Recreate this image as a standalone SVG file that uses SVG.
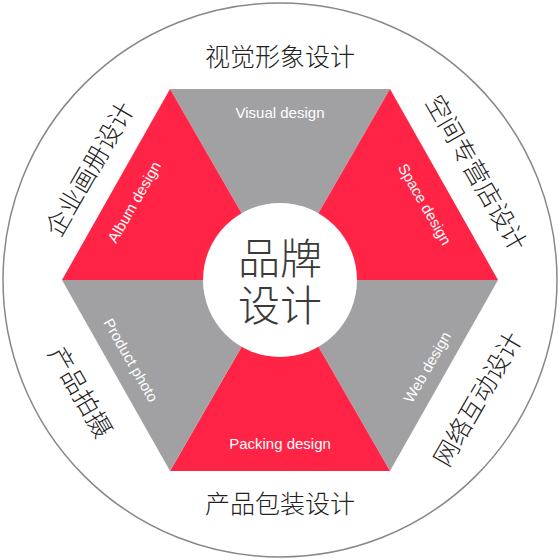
<svg xmlns="http://www.w3.org/2000/svg" width="560" height="560" viewBox="0 0 560 560">
<style>
.red{fill:#FF2445}
.gray{fill:#A1A1A3}
.cn{font-family:"Noto Sans CJK SC","Noto Sans",sans-serif;font-weight:300;fill:#222;font-size:25px;text-anchor:middle;dominant-baseline:central}
.en{font-family:"Liberation Sans",Arial,sans-serif;fill:#fff;font-size:15px;text-anchor:middle;dominant-baseline:central}
.big{font-family:"Noto Sans CJK SC","Noto Sans",sans-serif;font-weight:300;fill:#3a3a3a;font-size:42px;text-anchor:middle;dominant-baseline:central}
</style>
<rect width="560" height="560" fill="#fff"/>
<circle cx="280" cy="280" r="277" fill="#fff" stroke="#888" stroke-width="1.5"/>
<g id="visual"><polygon class="gray" points="280,280 170,89 390,89"/><text class="en" x="280" y="112">Visual design</text></g>
<g id="space"><polygon class="red" points="280,280 390,89 498,280"/><text class="en" transform="translate(425,204) rotate(60)">Space design</text></g>
<g id="web"><polygon class="gray" points="280,280 498,280 390,471"/><text class="en" transform="translate(427,367) rotate(-60)">Web design</text></g>
<g id="packing"><polygon class="red" points="280,280 390,471 170,471"/><text class="en" x="280" y="443">Packing design</text></g>
<g id="product"><polygon class="gray" points="280,280 170,471 62,280"/><text class="en" transform="translate(131,360) rotate(60)">Product photo</text></g>
<g id="album"><polygon class="red" points="280,280 62,280 170,89"/><text class="en" transform="translate(134,202) rotate(-60)">Album design</text></g>
<g id="center"><circle cx="280" cy="280" r="77" fill="#fff"/><text class="big" x="280" y="255">品牌</text><text class="big" x="280" y="302">设计</text></g>
<g id="labels">
<text class="cn" x="280" y="55">视觉形象设计</text>
<text class="cn" x="280" y="502">产品包装设计</text>
<text class="cn" transform="translate(88,168) rotate(-60)">企业画册设计</text>
<text class="cn" transform="translate(478,172) rotate(60)">空间专营店设计</text>
<text class="cn" transform="translate(82,391) rotate(60)">产品拍摄</text>
<text class="cn" transform="translate(476,398) rotate(-60)">网络互动设计</text>
</g>
</svg>
